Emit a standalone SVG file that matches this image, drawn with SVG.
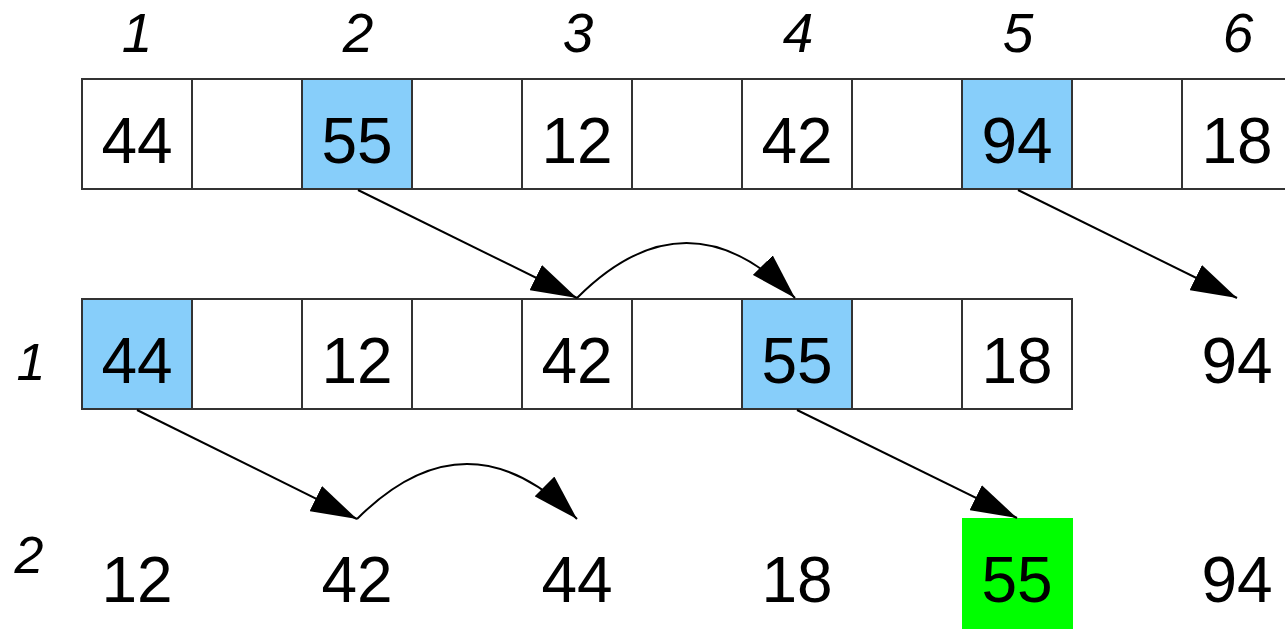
<svg xmlns="http://www.w3.org/2000/svg" width="1285" height="629" viewBox="0 0 1285 629">
<style>
.cell{fill:#fff;stroke:#333;stroke-width:2}
.blue{fill:#87CEFA}
.num{font-family:"Liberation Sans",Arial,sans-serif;font-size:64px;text-anchor:middle;fill:#000}
.idx{font-family:"Liberation Sans",Arial,sans-serif;font-size:55px;font-style:italic;text-anchor:middle;fill:#000}
.conn{fill:none;stroke:#000;stroke-width:2}
</style>
<defs>
<marker id="ah" viewBox="0 0 46 28" refX="46" refY="14" markerWidth="46" markerHeight="28" markerUnits="userSpaceOnUse" orient="auto">
<path d="M0,0 L46,14 L0,28 z" fill="#000"/>
</marker>
</defs>
<rect width="1285" height="629" fill="#fff"/>
<g id="indices">
<text class="idx" x="137" y="52">1</text>
<text class="idx" x="358" y="52">2</text>
<text class="idx" x="578" y="52">3</text>
<text class="idx" x="798" y="52">4</text>
<text class="idx" x="1018" y="52">5</text>
<text class="idx" x="1238" y="52">6</text>
<text class="idx" x="31" y="380" style="font-size:52px">1</text>
<text class="idx" x="29" y="573" style="font-size:52px">2</text>
</g>
<g id="row0">
<rect class="cell" x="82" y="79" width="110" height="110"/>
<rect class="cell" x="192" y="79" width="110" height="110"/>
<rect class="cell blue" x="302" y="79" width="110" height="110"/>
<rect class="cell" x="412" y="79" width="110" height="110"/>
<rect class="cell" x="522" y="79" width="110" height="110"/>
<rect class="cell" x="632" y="79" width="110" height="110"/>
<rect class="cell" x="742" y="79" width="110" height="110"/>
<rect class="cell" x="852" y="79" width="110" height="110"/>
<rect class="cell blue" x="962" y="79" width="110" height="110"/>
<rect class="cell" x="1072" y="79" width="110" height="110"/>
<rect class="cell" x="1182" y="79" width="110" height="110"/>
<text class="num" x="137" y="163">44</text>
<text class="num" x="357" y="163">55</text>
<text class="num" x="577" y="163">12</text>
<text class="num" x="797" y="163">42</text>
<text class="num" x="1017" y="163">94</text>
<text class="num" x="1237" y="163">18</text>
</g>
<g id="row1">
<rect class="cell blue" x="82" y="299" width="110" height="110"/>
<rect class="cell" x="192" y="299" width="110" height="110"/>
<rect class="cell" x="302" y="299" width="110" height="110"/>
<rect class="cell" x="412" y="299" width="110" height="110"/>
<rect class="cell" x="522" y="299" width="110" height="110"/>
<rect class="cell" x="632" y="299" width="110" height="110"/>
<rect class="cell blue" x="742" y="299" width="110" height="110"/>
<rect class="cell" x="852" y="299" width="110" height="110"/>
<rect class="cell" x="962" y="299" width="110" height="110"/>
<text class="num" x="137" y="383">44</text>
<text class="num" x="357" y="383">12</text>
<text class="num" x="577" y="383">42</text>
<text class="num" x="797" y="383">55</text>
<text class="num" x="1017" y="383">18</text>
<text class="num" x="1237" y="383">94</text>
</g>
<g id="row2">
<rect x="962" y="518" width="111" height="111" fill="#00FF00"/>
<text class="num" x="137" y="602">12</text>
<text class="num" x="357" y="602">42</text>
<text class="num" x="577" y="602">44</text>
<text class="num" x="797" y="602">18</text>
<text class="num" x="1017" y="602">55</text>
<text class="num" x="1237" y="602">94</text>
</g>
<g id="connectors">
<path class="conn" d="M358,190 L577,298" marker-end="url(#ah)"/>
<path class="conn" d="M577,298 Q687,188 795,298" marker-end="url(#ah)"/>
<path class="conn" d="M1018,190 L1237,298" marker-end="url(#ah)"/>
<path class="conn" d="M137,410 L357,519" marker-end="url(#ah)"/>
<path class="conn" d="M357,519 Q467,409 577,519" marker-end="url(#ah)"/>
<path class="conn" d="M797,410 L1017,518" marker-end="url(#ah)"/>
</g>
</svg>
